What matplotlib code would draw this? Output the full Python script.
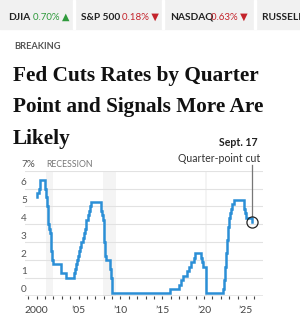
import matplotlib
matplotlib.use("Agg")
import matplotlib.pyplot as plt
import pandas as pd

W, H = 300, 317

# Fed funds target (midpoint of range after 2008), change dates
change_dates = [
    "2000-01-01", "2000-02-02", "2000-03-21", "2000-05-16",
    "2001-01-03", "2001-01-31", "2001-03-20", "2001-04-18", "2001-05-15",
    "2001-06-27", "2001-08-21", "2001-09-17", "2001-10-02", "2001-11-06",
    "2001-12-11", "2002-11-06", "2003-06-25",
    "2004-06-30", "2004-08-10", "2004-09-21", "2004-11-10", "2004-12-14",
    "2005-02-02", "2005-03-22", "2005-05-03", "2005-06-30", "2005-08-09",
    "2005-09-20", "2005-11-01", "2005-12-13", "2006-01-31", "2006-03-28",
    "2006-05-10", "2006-06-29",
    "2007-09-18", "2007-10-31", "2007-12-11", "2008-01-22", "2008-01-30",
    "2008-03-18", "2008-04-30", "2008-10-08", "2008-10-29", "2008-12-16",
    "2015-12-16", "2016-12-14", "2017-03-15", "2017-06-14", "2017-12-13",
    "2018-03-21", "2018-06-13", "2018-09-26", "2018-12-19",
    "2019-07-31", "2019-09-18", "2019-10-30", "2020-03-03", "2020-03-15",
    "2022-03-16", "2022-05-04", "2022-06-15", "2022-07-27", "2022-09-21",
    "2022-11-02", "2022-12-14", "2023-02-01", "2023-03-22", "2023-05-03",
    "2023-07-26", "2024-09-18", "2024-11-07", "2024-12-18", "2025-09-17",
]
rates = [
    5.50, 5.75, 6.00, 6.50,
    6.00, 5.50, 5.00, 4.50, 4.00,
    3.75, 3.50, 3.00, 2.50, 2.00,
    1.75, 1.25, 1.00,
    1.25, 1.50, 1.75, 2.00, 2.25,
    2.50, 2.75, 3.00, 3.25, 3.50,
    3.75, 4.00, 4.25, 4.50, 4.75,
    5.00, 5.25,
    4.75, 4.50, 4.25, 3.50, 3.00,
    2.25, 2.00, 1.50, 1.00, 0.125,
    0.375, 0.625, 0.875, 1.125, 1.375,
    1.625, 1.875, 2.125, 2.375,
    2.125, 1.875, 1.625, 1.125, 0.125,
    0.375, 0.875, 1.625, 2.375, 3.125,
    3.875, 4.375, 4.625, 4.875, 5.125,
    5.375, 4.875, 4.625, 4.375, 4.125,
]
recessions = [("2001-03-01", "2001-11-30"), ("2007-12-01", "2009-06-30"),
              ("2020-02-01", "2020-04-30")]
y_ticks = [0, 1, 2, 3, 4, 5, 6, 7]
y_labels = ["0", "1", "2", "3", "4", "5", "6", "7%"]
x_ticks = [2000, 2005, 2010, 2015, 2020, 2025]
x_labels = ["2000", "’05", "’10", "’15", "’20", "’25"]

tickers = ["DJIA", "S&P 500", "NASDAQ", "RUSSELL 2000"]
changes = ["0.70% ▲", "0.18% ▼", "0.63% ▼", ""]


def dec_year(s):
    d = pd.to_datetime(pd.Series(s))
    return (d.dt.year + (d.dt.dayofyear - 1) / 365.25).to_numpy()


def fx(x):
    return x / W


def fy(y):
    return 1 - y / H


SANS = ["Lato", "DejaVu Sans"]
SERIF = ["Liberation Serif", "DejaVu Serif"]

fig = plt.figure(figsize=(W / 100, H / 100), dpi=100)
fig.patch.set_facecolor("white")

# ticker bar
fig.patches.append(plt.Rectangle((0, fy(29)), 1, 29 / H, transform=fig.transFigure,
                                 color="#f1f1f1", zorder=0))
for sx in [73, 162, 254]:
    fig.patches.append(plt.Rectangle((fx(sx), fy(29)), 2 / W, 29 / H,
                                     transform=fig.transFigure, color="white", zorder=1))
name_x = [8, 81, 170, 262]
chg_x = [33, 122, 211, 0]
colors = ["#2f9a3c", "#c4232b", "#c4232b", "#222"]
for i, t in enumerate(tickers):
    fig.text(fx(name_x[i]), fy(19.5), t, family=SANS, fontsize=7.3, fontweight="bold",
             color="#222", va="baseline")
    if changes[i]:
        fig.text(fx(chg_x[i]), fy(19.5), changes[i], family=SANS, fontsize=7,
                 color=colors[i], va="baseline")

fig.text(fx(14), fy(49), "BREAKING", family=SANS, fontsize=6.7, fontweight="bold",
         color="#555", va="baseline")

for i, line in enumerate(["Fed Cuts Rates by Quarter", "Point and Signals More Are", "Likely"]):
    fig.text(fx(13), fy(81 + i * 31.3), line, family=SERIF, fontsize=15.3,
             fontweight="bold", color="#111", va="baseline")

# chart
px_per_year = 8.37
x0_px = 36.7
left_px, right_px = 25, 263
bot_px, top_px = 295.7, 170.7
ax = fig.add_axes([fx(left_px), fy(bot_px), (right_px - left_px) / W, (bot_px - top_px) / H])
ax.set_xlim(2000 + (left_px - x0_px) / px_per_year, 2000 + (right_px - x0_px) / px_per_year)
ax.set_ylim(0, 7)
ax.patch.set_alpha(0)
for s in ax.spines.values():
    s.set_visible(False)

for a, b in recessions:
    ra, rb = dec_year([a, b])
    ax.axvspan(ra, rb, color="#f4f4f4", lw=0, zorder=0)
for v in y_ticks[1:]:
    ax.axhline(v, color="#e2e2e2", lw=0.8, zorder=1)
ax.axhline(0, color="#444", lw=0.9, zorder=3)

t = dec_year(change_dates)
ax.plot(t, rates, drawstyle="steps-post", color="#2b8fd6", lw=1.8, zorder=4,
        solid_joinstyle="miter")

ax.set_yticks([])
ax.set_xticks(list(range(1999, 2027)))
ax.set_xticklabels([])
ax.tick_params(axis="x", length=2.5, width=0.8, color="#444", direction="out", pad=0)
for xt, lab in zip(x_ticks, x_labels):
    ax.text(xt, -0.55, lab, ha="center", va="top", family=SANS, fontsize=7.5, color="#444")
for v, lab in zip(y_ticks, y_labels):
    ax.text(-0.017, v + 0.33, lab, transform=ax.get_yaxis_transform(), ha="left",
            va="center", family=SANS, fontsize=7.2, color="#555")
ax.text(2001.2, 7.33, "RECESSION", family=SANS, fontsize=6.3, color="#777",
        ha="left", va="center")

# annotation
ax.plot([t[-1], t[-1]], [4.45, 7.32], color="#777", lw=0.9, zorder=5, clip_on=False)
ax.plot([t[-1]], [rates[-1]], "o", ms=8, mfc="none", mec="#222", mew=0.9, zorder=6)
fig.text(fx(258), fy(142), "Sept. 17", family=SANS, fontsize=7.6, fontweight="bold",
         color="#222", ha="right", va="center")
fig.text(fx(260), fy(158), "Quarter-point cut", family=SANS, fontsize=7.6,
         color="#333", ha="right", va="center")

fig.savefig("out.png", dpi=100)
